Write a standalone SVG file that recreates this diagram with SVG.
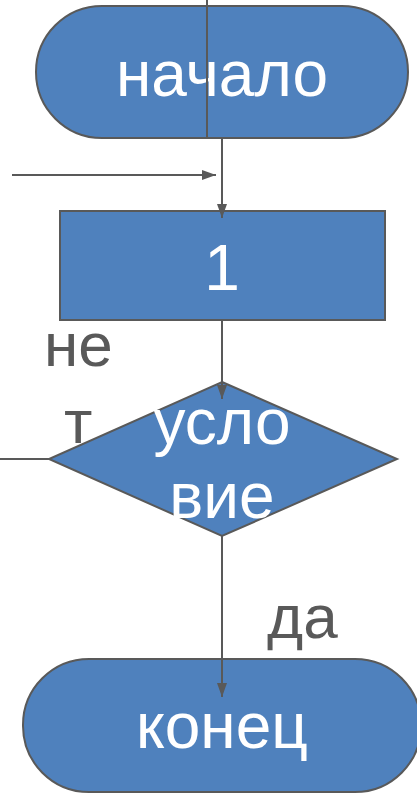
<svg xmlns="http://www.w3.org/2000/svg" width="417" height="794" viewBox="0 0 417 794">
<style>
.node{fill:#4F81BD;stroke:#595959;stroke-width:2}
.lbl{font-family:"Liberation Sans",Arial,sans-serif;font-size:64px;fill:#ffffff;text-anchor:middle}
.glbl{font-family:"Liberation Sans",Arial,sans-serif;font-size:62px;fill:#595959}
.edge{stroke:#595959;stroke-width:2;fill:none}
</style>
<defs>
<marker id="arr" viewBox="0 0 14 10" refX="14" refY="5" markerWidth="14" markerHeight="10" markerUnits="userSpaceOnUse" orient="auto">
<path d="M0,0 L14,5 L0,10 z" fill="#595959"/>
</marker>
</defs>
<rect width="417" height="794" fill="#ffffff"/>
<g id="start">
<rect class="node" x="36" y="6" width="372" height="132" rx="66" ry="66"/>
<text class="lbl" x="222" y="96">начало</text>
</g>
<g id="process1">
<rect class="node" x="60" y="211" width="325" height="109"/>
<text class="lbl" x="222" y="290">1</text>
</g>
<g id="condition">
<polygon class="node" points="222,382 397,459 222,536 49,459"/>
<text class="lbl" x="222" y="444">усло</text>
<text class="lbl" x="222" y="518">вие</text>
</g>
<g id="end">
<rect class="node" x="23" y="659" width="398" height="133" rx="66" ry="66"/>
<text class="lbl" x="222" y="748">конец</text>
</g>
<g id="connectors">
<line class="edge" x1="207" y1="0" x2="207" y2="138"/>
<line class="edge" x1="222" y1="138" x2="222" y2="218" marker-end="url(#arr)"/>
<line class="edge" x1="12" y1="175" x2="216" y2="175" marker-end="url(#arr)"/>
<line class="edge" x1="222" y1="320" x2="222" y2="399" marker-end="url(#arr)"/>
<line class="edge" x1="0" y1="459" x2="49" y2="459"/>
<line class="edge" x1="222" y1="536" x2="222" y2="697" marker-end="url(#arr)"/>
<text class="glbl" x="44" y="366">не</text>
<text class="glbl" x="64" y="443">т</text>
<text class="glbl" x="267" y="638">да</text>
</g>
</svg>
